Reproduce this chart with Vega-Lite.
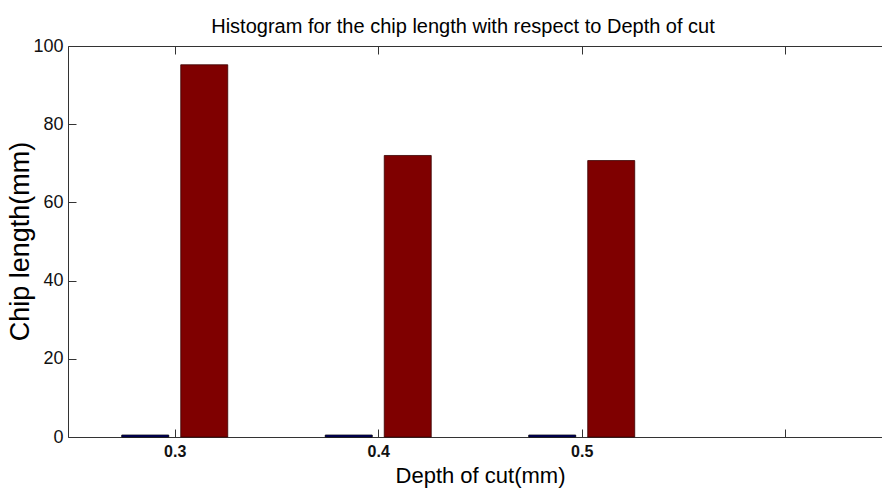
{
  "$schema": "https://vega.github.io/schema/vega-lite/v6.json",
  "autosize": "none",
  "width": 814,
  "height": 391,
  "padding": {"left": 68, "top": 46, "right": 0, "bottom": 55},
  "background": "white",
  "title": {
    "text": "Histogram for the chip length with respect to Depth of cut",
    "font": "Liberation Sans",
    "fontSize": 20,
    "fontWeight": "normal",
    "color": "#000000",
    "anchor": "middle",
    "baseline": "bottom",
    "offset": 8,
    "dx": -12,
    "dy": 28
  },
  "config": {
    "view": {"stroke": null},
    "axis": {"grid": false, "domainColor": "#333333", "tickColor": "#333333"}
  },
  "data": {
    "values": [
      {"depth": 0.3, "series": "a", "length": 0.5},
      {"depth": 0.3, "series": "b", "length": 95.2},
      {"depth": 0.4, "series": "a", "length": 0.5},
      {"depth": 0.4, "series": "b", "length": 72.0},
      {"depth": 0.5, "series": "a", "length": 0.5},
      {"depth": 0.5, "series": "b", "length": 70.7}
    ]
  },
  "layer": [
    {
      "transform": [{"filter": "datum.series === 'a'"}],
      "mark": {"type": "bar", "size": 47, "xOffset": -29.5, "color": "#00007f", "stroke": "#000000", "strokeWidth": 0.8},
      "encoding": {
        "x": {
          "field": "depth", "type": "quantitative",
          "scale": {"domain": [0.25, 0.6451], "nice": false, "zero": false},
          "axis": {
            "orient": "bottom",
            "values": [0.3, 0.4, 0.5, 0.6],
            "format": ".1f",
            "labelExpr": "datum.value < 0.55 ? datum.label : ''",
            "tickSize": -8,
            "labelPadding": 14,
            "labelDx": -4,
            "labelFont": "Liberation Sans",
            "labelFontWeight": "bold",
            "labelFontSize": 16,
            "labelColor": "#111111",
            "title": "Depth of cut(mm)",
            "titleFont": "Liberation Sans",
            "titleFontSize": 22,
            "titleFontWeight": "normal",
            "titleColor": "#000000",
            "titleX": 412,
            "titleY": 45,
            "titleAlign": "center",
            "titleBaseline": "alphabetic"
          }
        },
        "y": {
          "field": "length", "type": "quantitative",
          "scale": {"domain": [0, 100], "nice": false},
          "axis": {
            "values": [0, 20, 40, 60, 80, 100],
            "tickSize": -8,
            "labelPadding": 13,
            "labelFont": "Liberation Sans",
            "labelFontSize": 18,
            "labelColor": "#111111",
            "title": "Chip length(mm)",
            "titleFont": "Liberation Sans",
            "titleFontSize": 27,
            "titleFontWeight": "normal",
            "titleColor": "#000000",
            "titleAngle": -90,
            "titleX": -40,
            "titleY": 195,
            "titleAlign": "center",
            "titleBaseline": "alphabetic"
          }
        }
      }
    },
    {
      "transform": [{"filter": "datum.series === 'b'"}],
      "mark": {"type": "bar", "size": 47, "xOffset": 29.5, "color": "#7f0000", "stroke": "#3a0000", "strokeWidth": 0.8},
      "encoding": {
        "x": {
          "field": "depth", "type": "quantitative",
          "axis": {
            "orient": "top",
            "values": [0.3, 0.4, 0.5, 0.6],
            "labels": false,
            "tickSize": -8,
            "title": null
          }
        },
        "y": {"field": "length", "type": "quantitative"}
      }
    }
  ],
  "resolve": {"axis": {"x": "independent"}}
}
